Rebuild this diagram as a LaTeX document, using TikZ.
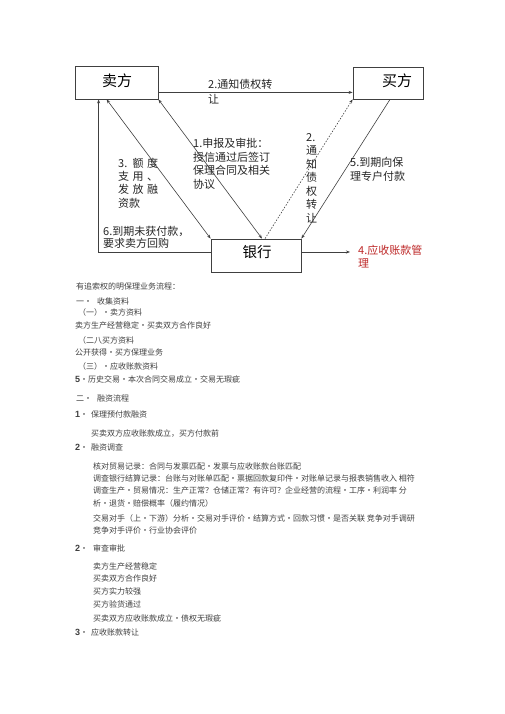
\documentclass[tikz,border=0pt]{standalone}
\usepackage{fontspec}
\setmainfont{Noto Sans CJK SC}
\newfontfamily\latb{Liberation Sans}
\usetikzlibrary{arrows.meta}
\definecolor{redlbl}{RGB}{190,40,40}
\newcommand\dt{\makebox[1em]{·}}
\newcommand\cc[1]{\makebox[14.5pt][l]{#1}}
\newcommand\bnum[1]{{\latb\bfseries\fontsize{9}{9}\selectfont #1}}
\begin{document}
\begin{tikzpicture}[x=1pt,y=-1pt]
\tikzset{
  box/.style={draw=black!75, line width=0.8pt, inner sep=0pt},
  boxtxt/.style={inner sep=0pt, font=\fontsize{15}{15}\selectfont},
  lbl/.style={anchor=base west, inner sep=0pt, align=left, text=black!85, font=\fontsize{11}{13.5}\selectfont},
  con/.style={draw=black!75, line width=0.6pt},
  arr/.style={con, -{Stealth[length=4pt,width=3pt]}},
  darr/.style={con, {Stealth[length=4pt,width=3pt]}-{Stealth[length=4pt,width=3pt]}},
  body/.style={anchor=base west, inner sep=0pt, text=black!75, font=\fontsize{8}{8}\selectfont},
}
\fill[white] (0,0) rectangle (505,714);
\useasboundingbox (0,0) rectangle (505,714);

% boxes
\node[box, minimum width=83pt, minimum height=33pt] (seller) at (116.5,82.5) {};
\node[boxtxt] (sellertxt) at (117,81) {卖方};
\node[box, minimum width=70pt, minimum height=32pt] (buyer) at (388,83) {};
\node[boxtxt] (buyertxt) at (397,81) {买方};
\node[box, minimum width=90pt, minimum height=33pt] (bank) at (256,255.5) {};
\node[boxtxt, font=\fontsize{14.5}{14.5}\selectfont] (banktxt) at (257,252) {银行};

% connectors
\draw[arr] ([yshift=7pt]seller.south east) -- ([yshift=7pt]buyer.south west);
\draw[arr] ([yshift=3.5pt]bank.west) -| ([xshift=24pt]seller.south west);
\draw[darr] ([xshift=32pt]seller.south west) -- (bank.north west);
\draw[darr] (seller.south east) -- ([xshift=6pt]bank.north);
\draw[arr, dashed, dash pattern=on 1.5pt off 1.5pt] ([xshift=9pt]bank.north) -- (buyer.south west);
\draw[arr] ([xshift=2pt]buyer.south) -- (bank.north east);
\coordinate (mgmt) at (350,252);
\draw[arr] ([yshift=3.5pt]bank.east) -- (mgmt);

% labels (base anchor = baseline of last line)
\node[lbl, font=\fontsize{11}{15}\selectfont] (l2h) at (208,104) {2.通知债权转\\让};
\node[lbl] (l1) at (193,188.5) {1.申报及审批：\\授信通过后签订\\保理合同及相关\\协议};
\node[lbl, font=\fontsize{11}{13.3}\selectfont] (l3) at (118,207) {\cc{3.}\cc{额}度\\\cc{支}\cc{用}、\\\cc{发}\cc{放}融\\资款};
\node[lbl] (l2v) at (306,222) {2.\\通\\知\\债\\权\\转\\让};
\node[lbl, font=\fontsize{11}{14}\selectfont] (l5) at (350,181) {5.到期向保\\理专户付款};
\node[lbl, font=\fontsize{11}{11.5}\selectfont] (l6) at (103,247) {6.到期未获付款，\\要求卖方回购};
\node[lbl, text=redlbl, font=\fontsize{11}{13}\selectfont] (l4) at (358,267) {4.应收账款管\\理};

% body text
\node[body] (t1) at (76,289) {有追索权的明保理业务流程：};
\node[body] (t2a) at (76,304) {一\dt};
\node[body] (t2b) at (97,304) {收集资料};
\node[body] (t3) at (78,315) {（一）\dt 卖方资料};
\node[body] (t4) at (75,328) {卖方生产经营稳定\dt 买卖双方合作良好};
\node[body] (t5) at (78,343) {（二八买方资料};
\node[body] (t6) at (75,355) {公开获得\dt 买方保理业务};
\node[body] (t7) at (78,369) {（三）\dt 应收账款资料};
\node[body] (t8) at (75,382) {\bnum{5}\dt 历史交易\dt 本次合同交易成立\dt 交易无瑕疵};
\node[body] (t9a) at (76,401) {二\dt};
\node[body] (t9b) at (97,401) {融资流程};
\node[body] (t10a) at (75,417) {\bnum{1}\dt};
\node[body] (t10b) at (91,417) {保理预付款融资};
\node[body] (t11) at (91,436) {买卖双方应收账款成立，买方付款前};
\node[body] (t12a) at (75,450) {\bnum{2}\dt};
\node[body] (t12b) at (91,450) {融资调查};
\node[body] (t13) at (93,469) {核对贸易记录：合同与发票匹配\dt 发票与应收账款台账匹配};
\node[body] (t14) at (93,481) {调查银行结算记录：台账与对账单匹配\dt 票据回款复印件\dt 对账单记录与报表销售收入 相符};
\node[body] (t15) at (93,493) {调查生产\dt 贸易情况：生产正常？仓储正常？有许可？企业经营的流程\dt 工序\dt 利润率 分};
\node[body] (t16) at (93,506) {析\dt 退货\dt 赔偿概率（履约情况）};
\node[body] (t17) at (93,521) {交易对手（上\dt 下游）分析\dt 交易对手评价\dt 结算方式\dt 回款习惯\dt 是否关联 竞争对手调研};
\node[body] (t18) at (93,533) {竞争对手评价\dt 行业协会评价};
\node[body] (t19a) at (75,551) {\bnum{2}\dt};
\node[body] (t19b) at (93,551) {审查审批};
\node[body] (t20) at (93,569) {卖方生产经营稳定};
\node[body] (t21) at (93,581) {买卖双方合作良好};
\node[body] (t22) at (93,594) {买方实力较强};
\node[body] (t23) at (93,607) {买方验货通过};
\node[body] (t24) at (93,621) {买卖双方应收账款成立\dt 债权无瑕疵};
\node[body] (t25a) at (75,635) {\bnum{3}\dt};
\node[body] (t25b) at (91,635) {应收账款转让};
\end{tikzpicture}
\end{document}
